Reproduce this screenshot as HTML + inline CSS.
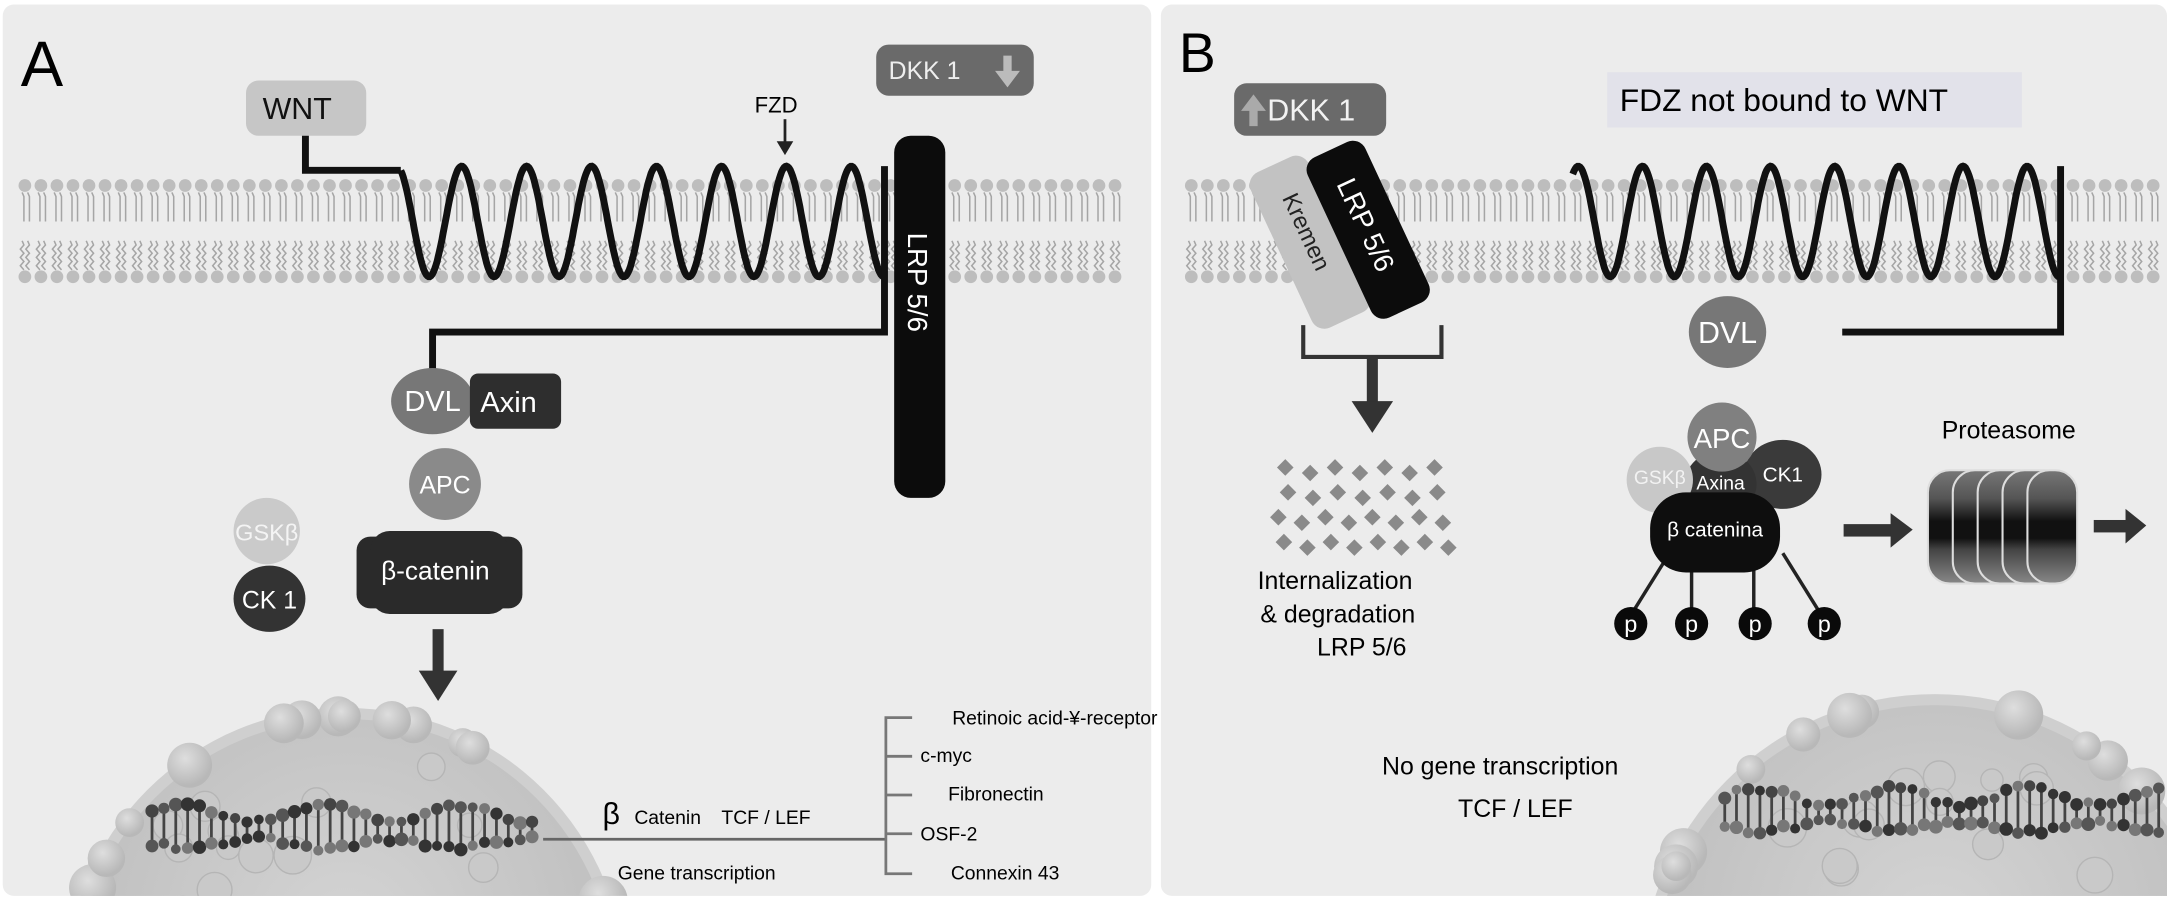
<!DOCTYPE html>
<html><head><meta charset="utf-8"><style>
html,body{margin:0;padding:0;background:#fff;overflow:hidden;width:2167px;height:899px;}
svg{display:block;}
text{font-family:"Liberation Sans",sans-serif;}
</style></head><body>
<svg id="s" width="2167" height="899" viewBox="0 0 1568 650" xmlns="http://www.w3.org/2000/svg">
<defs>
<radialGradient id="nuc" cx="50%" cy="40%" r="60%"><stop offset="0" stop-color="#d4d4d4"/><stop offset="1" stop-color="#bcbcbc"/></radialGradient>
<radialGradient id="bub" cx="40%" cy="35%" r="60%"><stop offset="0" stop-color="#dedede"/><stop offset="1" stop-color="#b8b8b8"/></radialGradient>
<linearGradient id="prot" x1="0" y1="0" x2="0" y2="1">
<stop offset="0" stop-color="#777"/><stop offset="0.25" stop-color="#555"/><stop offset="0.35" stop-color="#333"/><stop offset="0.45" stop-color="#111"/><stop offset="0.6" stop-color="#111"/><stop offset="0.7" stop-color="#444"/><stop offset="0.85" stop-color="#666"/><stop offset="1" stop-color="#888"/></linearGradient>
<clipPath id="ca"><rect x="0" y="0" width="835" height="648"/></clipPath>
<clipPath id="cb"><rect x="838" y="0" width="730" height="648"/></clipPath>
</defs>
<rect x="0" y="0" width="1568" height="650" fill="#fff"/>
<rect x="2" y="3" width="831" height="645" rx="8" fill="#ececec"/>
<rect x="840" y="3" width="728" height="645" rx="8" fill="#ececec"/>
<g id="memA"></g><g id="memB"></g>

<!-- Panel A -->
<text x="15" y="62" font-size="46">A</text>
<rect x="178" y="58" width="87" height="40" rx="9" fill="#c6c6c6"/>
<text x="190" y="86" font-size="22" fill="#111">WNT</text>
<path id="waveA" fill="none" stroke="#111" stroke-width="5"/>
<path d="M221 98 V123 H290" fill="none" stroke="#111" stroke-width="5"/>
<path d="M640 120 V240 H313 V268" fill="none" stroke="#111" stroke-width="5"/>
<text x="546" y="81" font-size="16">FZD</text>
<line x1="568" y1="86" x2="568" y2="104" stroke="#222" stroke-width="2"/>
<path d="M562 102 L568 112 L574 102 Z" fill="#222"/>
<rect x="634" y="32" width="114" height="37" rx="9" fill="#6a6a6a"/>
<text x="643" y="57" font-size="18" fill="#eee">DKK 1</text>
<path d="M726 40 h6 v11 h6 l-9 12 l-9 -12 h6 z" fill="#bbb"/>
<rect x="647" y="98" width="37" height="262" rx="12" fill="#0c0c0c"/>
<text transform="translate(657,204) rotate(90)" font-size="20" fill="#fff" text-anchor="middle">LRP 5/6</text>
<ellipse cx="313" cy="290" rx="30" ry="24" fill="#777"/>
<text x="313" y="297" font-size="21" fill="#fff" text-anchor="middle">DVL</text>
<rect x="340" y="270" width="66" height="40" rx="6" fill="#2e2e2e"/>
<text x="368" y="298" font-size="21" fill="#fff" text-anchor="middle">Axin</text>
<circle cx="322" cy="350" r="26" fill="#8a8a8a"/>
<text x="322" y="357" font-size="18" fill="#fff" text-anchor="middle">APC</text>
<circle cx="193" cy="384" r="24" fill="#cacaca"/>
<text x="193" y="391" font-size="17" fill="#f4f4f4" text-anchor="middle">GSKβ</text>
<ellipse cx="195" cy="433" rx="26" ry="24" fill="#333"/>
<text x="195" y="440" font-size="18" fill="#fff" text-anchor="middle">CK 1</text>
<rect x="258" y="388" width="120" height="52" rx="10" fill="#2a2a2a"/>
<rect x="268" y="384" width="100" height="60" rx="14" fill="#2a2a2a"/>
<text x="315" y="419" font-size="19" fill="#fff" text-anchor="middle">β-catenin</text>
<rect x="313" y="455" width="8" height="32" fill="#333"/>
<path d="M303 485 L331 485 L317 507 Z" fill="#333"/>
<g clip-path="url(#ca)"><g id="nucA"></g></g>
<line x1="393" y1="607" x2="641" y2="607" stroke="#666" stroke-width="2"/>
<path d="M660 519 H641 V632 H660 M641 547 H660 M641 575 H660 M641 603 H660" fill="none" stroke="#777" stroke-width="2"/>
<text x="436" y="596" font-size="22" font-family="Liberation Serif,serif">β</text>
<text x="459" y="596" font-size="14">Catenin</text>
<text x="522" y="596" font-size="14">TCF / LEF</text>
<text x="447" y="636" font-size="14">Gene transcription</text>
<text x="689" y="524" font-size="14">Retinoic acid-¥-receptor</text>
<text x="666" y="551" font-size="14">c-myc</text>
<text x="686" y="579" font-size="14">Fibronectin</text>
<text x="666" y="608" font-size="14">OSF-2</text>
<text x="688" y="636" font-size="14">Connexin 43</text>

<!-- Panel B -->
<text x="853" y="52" font-size="40">B</text>
<rect x="893" y="60" width="110" height="38" rx="9" fill="#6a6a6a"/>
<path d="M904 91 h6 v-11 h6 l-9 -12 l-9 12 h6 z" fill="#aaa"/>
<text x="917" y="87" font-size="22" fill="#f2f2f2">DKK 1</text>
<g transform="translate(948,175) rotate(-25)">
<rect x="-23" y="-62" width="46" height="124" rx="10" fill="#c2c2c2"/>
<text transform="rotate(90)" x="-8" y="5" font-size="17" fill="#222" text-anchor="middle">Kremen</text>
</g>
<g transform="translate(990,166) rotate(-25)">
<rect x="-23" y="-64" width="46" height="128" rx="10" fill="#0c0c0c"/>
<text transform="rotate(90)" x="-4" y="7" font-size="20" fill="#fff" text-anchor="middle">LRP 5/6</text>
</g>
<path d="M943 235 V258 H1043 V235" fill="none" stroke="#333" stroke-width="3"/>
<rect x="989" y="258" width="8" height="34" fill="#333"/>
<path d="M978 290 L1008 290 L993 313 Z" fill="#333"/>
<g id="diam" fill="#8a8a8a"></g>
<text x="910" y="426" font-size="18">Internalization</text>
<text x="912" y="450" font-size="18">&amp; degradation</text>
<text x="953" y="474" font-size="18">LRP 5/6</text>
<rect x="1163" y="52" width="300" height="40" fill="#e2e2ea"/>
<text x="1172" y="80" font-size="23">FDZ not bound to WNT</text>
<path id="waveB" fill="none" stroke="#111" stroke-width="5"/>
<path d="M1491 120 V240 H1333" fill="none" stroke="#111" stroke-width="5"/>
<ellipse cx="1250" cy="240" rx="28" ry="26" fill="#777"/>
<text x="1250" y="248" font-size="22" fill="#fff" text-anchor="middle">DVL</text>
<line x1="1208" y1="400" x2="1180" y2="445" stroke="#222" stroke-width="2.5"/>
<line x1="1224" y1="405" x2="1224" y2="445" stroke="#222" stroke-width="2.5"/>
<line x1="1269" y1="405" x2="1269" y2="445" stroke="#222" stroke-width="2.5"/>
<line x1="1290" y1="400" x2="1318" y2="445" stroke="#222" stroke-width="2.5"/>
<ellipse cx="1290" cy="343" rx="28" ry="25" fill="#3a3a3a"/>
<ellipse cx="1245" cy="350" rx="26" ry="24" fill="#333"/>
<circle cx="1201" cy="347" r="24" fill="#c8c8c8"/>
<circle cx="1246" cy="316" r="25" fill="#808080"/>
<rect x="1194" y="356" width="94" height="58" rx="26" fill="#0e0e0e"/>
<text x="1246" y="324" font-size="20" fill="#fff" text-anchor="middle">APC</text>
<text x="1201" y="350" font-size="14" fill="#f2f2f2" text-anchor="middle">GSKβ</text>
<text x="1245" y="354" font-size="14" fill="#fff" text-anchor="middle">Axina</text>
<text x="1290" y="348" font-size="15" fill="#fff" text-anchor="middle">CK1</text>
<text x="1241" y="388" font-size="15" fill="#fff" text-anchor="middle">β catenina</text>
<g font-size="17" fill="#fff" text-anchor="middle">
<circle cx="1180" cy="451" r="12" fill="#0a0a0a"/><text x="1180" y="457">p</text>
<circle cx="1224" cy="451" r="12" fill="#0a0a0a"/><text x="1224" y="457">p</text>
<circle cx="1270" cy="451" r="12" fill="#0a0a0a"/><text x="1270" y="457">p</text>
<circle cx="1320" cy="451" r="12" fill="#0a0a0a"/><text x="1320" y="457">p</text>
</g>
<rect x="1334" y="379" width="36" height="9" fill="#333"/>
<path d="M1368 371 L1384 383 L1368 396 Z" fill="#333"/>
<text x="1405" y="317" font-size="18">Proteasome</text>
<g stroke="#ddd" stroke-width="1.5" fill="url(#prot)">
<rect x="1395" y="340" width="46" height="82" rx="16"/>
<rect x="1413" y="340" width="46" height="82" rx="16"/>
<rect x="1431" y="340" width="46" height="82" rx="16"/>
<rect x="1449" y="340" width="46" height="82" rx="16"/>
<rect x="1467" y="340" width="36" height="82" rx="16"/>
</g>
<rect x="1515" y="376" width="25" height="9" fill="#333"/>
<path d="M1538 368 L1553 380 L1538 393 Z" fill="#333"/>
<text x="1000" y="560" font-size="18">No gene transcription</text>
<text x="1055" y="591" font-size="18">TCF / LEF</text>
<g clip-path="url(#cb)"><g id="nucB"></g></g>
</svg>
<script>
var NS="http://www.w3.org/2000/svg";
function el(p,t,a){var e=document.createElementNS(NS,t);for(var k in a)e.setAttribute(k,a[k]);p.appendChild(e);return e;}
function mem(g,x0,x1){g=document.getElementById(g);
 for(var x=x0;x<=x1;x+=11.6){
  el(g,"circle",{cx:x,cy:134,r:4.6,fill:"#bdbdbd"});
  el(g,"circle",{cx:x,cy:200,r:4.6,fill:"#bdbdbd"});
  [[-2,139,160],[2,139,160],[-2,174,195],[2,174,195]].forEach(function(t){
   var d="M"+(x+t[0])+" "+t[1];for(var y=t[1]+3;y<=t[2];y+=3)d+=" L"+(x+t[0]+((y/3)%2?1.3:-1.3))+" "+y;
   el(g,"path",{d:d,fill:"none",stroke:"#a5a5a5","stroke-width":1.1});});
 }}
mem("memA",18,812);mem("memB",862,1568);
(function(){var d="M290 123";for(var i=0;i<=400;i++){var x=290+350*i/400;var y=160-40*Math.cos(Math.PI*2*(x-334)/47);d+=" L"+x.toFixed(1)+" "+y.toFixed(1);}document.getElementById("waveA").setAttribute("d",d);
 d="";for(var i=0;i<=400;i++){var x=1138+353*i/400;var y=160-40*Math.cos(Math.PI*2*(x-1142)/46.4);d+=(i?" L":"M")+x.toFixed(1)+" "+y.toFixed(1);}document.getElementById("waveB").setAttribute("d",d);})();
function nuc(g,cx,cy,r,dx0,dx1,dy,seed){g=document.getElementById(g);
 el(g,"circle",{cx:cx,cy:cy,r:r+8,fill:"#cfcfcf"});
 el(g,"circle",{cx:cx,cy:cy,r:r,fill:"url(#nuc)"});
 var s=seed;function rnd(){s=(s*9301+49297)%233280;return s/233280;}
 for(var i=0;i<16;i++){var a=Math.PI*(1.05+0.9*rnd());el(g,"circle",{cx:cx+(r+2)*Math.cos(a),cy:cy+(r+2)*Math.sin(a),r:10+8*rnd(),fill:"url(#bub)"});}
 for(var i=0;i<14;i++){var a=Math.PI*(1.1+0.8*rnd()),rr=r*(0.5+0.4*rnd());el(g,"circle",{cx:cx+rr*Math.cos(a),cy:cy+rr*Math.sin(a),r:8+6*rnd(),fill:"#c9c9c9",stroke:"#b5b5b5"});}
 var n=Math.round((dx1-dx0)/8.6);
 for(var i=0;i<=n;i++){var x=dx0+i*(dx1-dx0)/n;var amp=6*Math.sin(i*0.55);var top=dy-8-amp-4*rnd(),bot=dy+10+amp*0.6+4*rnd();var c=["#333","#555","#777","#444"][Math.floor(rnd()*4)];
  el(g,"line",{x1:x,y1:top,x2:x,y2:bot,stroke:"#444","stroke-width":2});
  el(g,"circle",{cx:x,cy:top,r:3.5+1.5*rnd(),fill:c});el(g,"circle",{cx:x,cy:bot,r:3.5+1.5*rnd(),fill:["#333","#555","#777"][Math.floor(rnd()*3)]});}
}
nuc("nucA",250,715,195,110,385,598,7);
nuc("nucB",1400,715,205,1248,1562,586,13);
(function(){var g=document.getElementById("diam");var rows=[[930,338,7,18],[928,356,7,18],[925,374,8,17],[925,392,8,17]];
 rows.forEach(function(r,j){for(var i=0;i<r[2];i++){var x=r[0]+i*r[3]+(j%2?4:0),y=r[1]+((i%2)?4:0);el(g,"path",{d:"M"+x+" "+(y-6)+" L"+(x+6)+" "+y+" L"+x+" "+(y+6)+" L"+(x-6)+" "+y+" Z"});}});})();
</script>
</body></html>
